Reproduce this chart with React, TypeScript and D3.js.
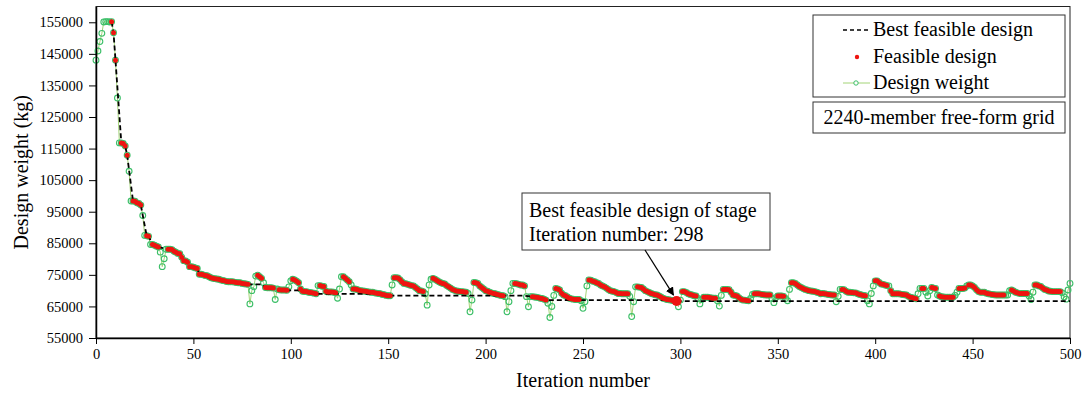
import React, { useEffect, useRef } from "react";
import * as d3 from "d3";

// design weight at each iteration 0..500, in thousands of kg
const weights = [
  143.0, 145.9, 148.9, 151.5, 155.1, 155.2, 155.2, 155.1, 155.2, 151.7,
  143.0, 131.0, 116.8, 116.8, 116.6, 115.8, 112.9, 107.8, 98.4, 98.4,
  98.3, 97.8, 97.6, 97.1, 93.8, 87.5, 87.4, 87.2, 84.6, 84.6,
  84.4, 84.1, 83.8, 82.2, 77.6, 80.1, 83.1, 83.1, 83.1, 83.0,
  82.5, 82.2, 81.8, 81.7, 80.6, 79.5, 79.4, 79.0, 77.6, 77.6,
  77.4, 77.2, 77.0, 75.2, 75.2, 75.0, 74.8, 74.7, 74.4, 74.1,
  73.9, 73.8, 73.7, 73.6, 73.4, 73.2, 73.1, 72.9, 72.8, 72.8,
  72.8, 72.7, 72.6, 72.5, 72.5, 72.3, 72.2, 72.1, 72.0, 65.8,
  70.0, 71.2, 74.6, 74.9, 74.4, 73.9, 72.5, 71.0, 70.9, 70.9,
  70.9, 70.8, 67.2, 70.5, 70.3, 70.2, 70.2, 70.2, 70.1, 71.2,
  73.1, 73.6, 73.4, 73.0, 72.5, 70.5, 69.8, 69.7, 69.7, 69.5,
  69.4, 69.3, 69.2, 69.0, 71.6, 71.6, 71.4, 71.3, 69.8, 69.6,
  69.6, 69.6, 69.5, 69.3, 67.6, 70.5, 74.4, 74.4, 73.9, 73.4,
  72.8, 71.8, 70.5, 70.5, 70.4, 70.1, 70.0, 69.9, 69.8, 69.7,
  69.6, 69.5, 69.5, 69.3, 69.2, 69.1, 69.0, 68.8, 68.7, 68.5,
  68.4, 68.4, 71.8, 74.1, 74.1, 74.0, 73.5, 72.8, 72.3, 72.2,
  72.0, 71.8, 71.6, 71.5, 71.0, 70.5, 70.0, 69.9, 69.7, 69.0,
  65.4, 71.8, 73.6, 73.9, 73.6, 73.2, 72.8, 72.5, 72.3, 72.1,
  71.6, 71.2, 70.8, 70.4, 70.1, 69.9, 69.8, 69.7, 69.7, 69.6,
  69.5, 69.1, 63.3, 67.0, 72.6, 72.5, 72.3, 71.5, 71.0, 70.5,
  70.0, 69.8, 69.5, 69.3, 69.1, 69.0, 68.8, 68.6, 68.5, 68.4,
  68.1, 63.3, 66.5, 70.0, 72.3, 72.3, 72.2, 72.0, 71.8, 71.8,
  71.5, 68.1, 64.9, 68.1, 68.1, 68.0, 67.9, 67.8, 67.6, 67.5,
  67.3, 67.0, 66.0, 61.5, 65.0, 68.5, 70.7, 70.5, 70.2, 69.2,
  68.6, 68.4, 68.0, 67.6, 67.4, 67.3, 67.2, 67.2, 67.2, 66.8,
  64.4, 66.5, 71.5, 73.4, 73.3, 73.0, 72.8, 72.5, 72.3, 71.8,
  71.5, 71.2, 70.8, 70.4, 70.0, 69.8, 69.7, 69.4, 69.1, 69.1,
  69.0, 69.0, 69.0, 69.0, 68.2, 61.8, 66.5, 71.2, 71.2, 71.1,
  71.0, 70.5, 70.0, 69.7, 69.4, 69.1, 68.9, 68.7, 68.6, 68.3,
  68.0, 67.6, 67.4, 67.2, 67.1, 67.0, 66.9, 66.8, 66.7, 64.9,
  67.0, 69.7, 69.7, 69.4, 69.0, 68.8, 68.6, 68.4, 68.3, 67.5,
  65.8, 67.2, 67.9, 67.9, 67.9, 67.8, 67.7, 67.6, 67.6, 66.8,
  65.1, 68.5, 70.4, 70.4, 70.4, 70.3, 69.5, 68.6, 68.5, 68.3,
  67.8, 67.3, 67.0, 67.0, 66.9, 66.8, 67.5, 68.8, 69.0, 69.0,
  69.0, 68.9, 68.8, 68.7, 68.6, 68.6, 68.6, 67.5, 66.2, 67.8,
  68.3, 68.3, 68.3, 68.2, 67.5, 66.8, 70.4, 72.5, 72.5, 72.3,
  71.8, 71.3, 71.0, 70.7, 70.4, 70.2, 70.0, 69.9, 69.8, 69.7,
  69.5, 69.3, 69.0, 69.1, 69.0, 68.9, 68.8, 68.7, 68.6, 68.6,
  66.5, 68.2, 70.4, 70.4, 70.3, 69.8, 69.5, 69.5, 69.4, 69.3,
  69.3, 69.0, 68.8, 68.6, 68.5, 68.4, 66.8, 65.8, 69.1, 71.5,
  73.1, 73.1, 72.6, 72.1, 72.0, 71.8, 71.6, 71.5, 70.0, 69.0,
  69.0, 69.0, 69.0, 68.9, 68.8, 68.7, 68.6, 68.2, 67.9, 67.8,
  67.6, 67.4, 69.0, 70.7, 70.7, 70.7, 69.5, 68.3, 70.0, 71.0,
  70.8, 70.7, 68.6, 68.3, 68.1, 68.0, 67.9, 67.9, 67.9, 67.9,
  67.9, 68.5, 69.5, 70.7, 70.7, 70.7, 70.8, 71.5, 71.8, 71.8,
  71.5, 71.0, 70.3, 69.7, 69.5, 69.5, 69.5, 69.2, 69.0, 68.9,
  68.8, 68.7, 68.6, 68.6, 68.6, 68.6, 68.6, 68.6, 68.6, 70.0,
  70.2, 69.9, 69.5, 69.3, 69.1, 69.1, 69.1, 69.1, 69.1, 68.3,
  67.2, 69.5, 71.8, 71.8, 71.5, 71.3, 70.8, 70.4, 70.2, 69.9,
  69.8, 69.7, 69.7, 69.7, 69.7, 69.7, 69.3, 68.0, 67.3, 70.2,
  72.3,
];

// iterations where the design was not feasible (open circle only)
const infeasible = [
  0, 1, 2, 3, 4, 5, 6, 7, 11, 12, 17, 18, 24, 25, 28, 33, 34, 35, 36,
  79, 80, 81, 82, 86, 92, 93, 99, 100, 114, 124, 125, 126, 131, 152,
  169, 170, 171, 172, 191, 192, 193, 210, 211, 212, 213, 214, 221, 222, 223,
  232, 233, 234, 235, 249, 250, 251, 252, 274, 275, 276, 277, 299, 300,
  309, 310, 311, 319, 320, 321, 336, 337, 347, 348, 349, 354, 355, 356,
  380, 381, 382, 396, 397, 398, 399, 407, 422, 423, 426, 427, 428, 432,
  441, 442, 447, 467, 468, 469, 479, 480, 481, 496, 497, 498, 499, 500,
];

const xTicks = [0, 50, 100, 150, 200, 250, 300, 350, 400, 450, 500];
const yTicks = [55000, 65000, 75000, 85000, 95000, 105000, 115000, 125000, 135000, 145000, 155000];
const bestIteration = 298;

const FONT = "'Liberation Serif', 'Times New Roman', serif";
const GREEN_LINE = "#a3d477";
const GREEN_MARK = "#3cbf68";
const RED = "#ee1410";

export default function App() {
  const svgRef = useRef<SVGSVGElement>(null);

  useEffect(() => {
    const svg = d3.select(svgRef.current);
    svg.selectAll("*").remove();

    const left = 96, right = 1070, top = 6.5, bottom = 338;
    const x = d3.scaleLinear().domain([0, 500]).range([left, right]);
    const y = d3.scaleLinear().domain([55000, 160000]).range([bottom, top]);

    const bad = new Set(infeasible);
    const pts = weights.map((w, i) => ({ i, v: w * 1000, ok: !bad.has(i) }));
    const feasible = pts.filter(d => d.ok);

    // running best of the feasible designs, extended to the last iteration
    const best: { i: number; v: number }[] = [];
    let m = Infinity;
    feasible.forEach(d => { m = Math.min(m, d.v); best.push({ i: d.i, v: m }); });
    best.push({ i: 500, v: m });

    // frame
    svg.append("rect")
      .attr("x", left).attr("y", top)
      .attr("width", right - left).attr("height", bottom - top)
      .attr("fill", "none").attr("stroke", "#222").attr("stroke-width", 1);

    const line = d3.line<{ i: number; v: number }>().x(d => x(d.i)).y(d => y(d.v));

    svg.append("path").datum(pts).attr("d", line)
      .attr("fill", "none").attr("stroke", GREEN_LINE).attr("stroke-width", 1);

    svg.append("g").selectAll("circle").data(pts).join("circle")
      .attr("cx", d => x(d.i)).attr("cy", d => y(d.v)).attr("r", 2.9)
      .attr("fill", "none").attr("stroke", GREEN_MARK).attr("stroke-width", 1.1);

    svg.append("path").datum(best).attr("d", line)
      .attr("fill", "none").attr("stroke", "#000").attr("stroke-width", 1.8)
      .attr("stroke-dasharray", "5,3");

    svg.append("g").selectAll("circle").data(feasible).join("circle")
      .attr("cx", d => x(d.i)).attr("cy", d => y(d.v)).attr("r", 2.5)
      .attr("fill", RED);

    const bp = pts[bestIteration];
    svg.append("circle").attr("cx", x(bp.i)).attr("cy", y(bp.v)).attr("r", 5).attr("fill", RED);

    // axes
    const xAxis = svg.append("g").attr("transform", `translate(0,${bottom})`)
      .call(d3.axisBottom(x).tickValues(xTicks).tickSize(6).tickPadding(5).tickSizeOuter(0));
    const yAxis = svg.append("g").attr("transform", `translate(${left},0)`)
      .call(d3.axisLeft(y).tickValues(yTicks).tickSize(7).tickPadding(6).tickSizeOuter(0).tickFormat(d3.format("d")));
    [xAxis, yAxis].forEach(g => {
      g.select(".domain").attr("stroke", "#000").attr("stroke-width", 1.5);
      g.selectAll(".tick line").attr("stroke", "#000");
      g.selectAll("text").attr("fill", "#000").style("font-size", "14.5px").style("font-family", FONT);
    });

    svg.append("text").attr("x", (left + right) / 2).attr("y", 387)
      .attr("text-anchor", "middle").style("font-size", "20px").style("font-family", FONT)
      .text("Iteration number");
    svg.append("text").attr("transform", `translate(28,${(top + bottom) / 2}) rotate(-90)`)
      .attr("text-anchor", "middle").style("font-size", "20px").style("font-family", FONT)
      .text("Design weight (kg)");

    // legend
    const lg = svg.append("g");
    lg.append("rect").attr("x", 813).attr("y", 15).attr("width", 252).attr("height", 82)
      .attr("fill", "#fff").attr("stroke", "#333");
    lg.append("line").attr("x1", 843).attr("x2", 868).attr("y1", 30).attr("y2", 30)
      .attr("stroke", "#000").attr("stroke-width", 1.6).attr("stroke-dasharray", "4,3");
    lg.append("circle").attr("cx", 857).attr("cy", 57).attr("r", 2.2).attr("fill", RED);
    lg.append("line").attr("x1", 843).attr("x2", 870).attr("y1", 83).attr("y2", 83)
      .attr("stroke", GREEN_LINE).attr("stroke-width", 1);
    lg.append("circle").attr("cx", 856).attr("cy", 83).attr("r", 2.2)
      .attr("fill", "#fff").attr("stroke", GREEN_MARK);
    ["Best feasible design", "Feasible design", "Design weight"].forEach((t, k) => {
      lg.append("text").attr("x", 873).attr("y", 36 + k * 26.5)
        .style("font-size", "20px").style("font-family", FONT).text(t);
    });

    lg.append("rect").attr("x", 813).attr("y", 102).attr("width", 252).attr("height", 31)
      .attr("fill", "#fff").attr("stroke", "#333");
    lg.append("text").attr("x", 939).attr("y", 124).attr("text-anchor", "middle")
      .style("font-size", "20px").style("font-family", FONT).text("2240-member free-form grid");

    // annotation
    svg.append("defs").append("marker").attr("id", "arr")
      .attr("viewBox", "0 0 10 10").attr("refX", 9).attr("refY", 5)
      .attr("markerWidth", 7).attr("markerHeight", 7).attr("orient", "auto")
      .append("path").attr("d", "M0,0L10,5L0,10z").attr("fill", "#000");
    svg.append("rect").attr("x", 522).attr("y", 193).attr("width", 248).attr("height", 57)
      .attr("fill", "#fff").attr("stroke", "#333");
    svg.append("text").attr("x", 529).attr("y", 217).style("font-size", "20px").style("font-family", FONT)
      .text("Best feasible design of stage");
    svg.append("text").attr("x", 529).attr("y", 241).style("font-size", "20px").style("font-family", FONT)
      .text(`Iteration number: ${bestIteration}`);
    svg.append("line").attr("x1", 645).attr("y1", 250).attr("x2", x(bp.i) - 3).attr("y2", y(bp.v) - 6)
      .attr("stroke", "#000").attr("stroke-width", 1.2).attr("marker-end", "url(#arr)");
  }, []);

  return (
    <svg ref={svgRef} width={1090} height={394}
      style={{ position: "absolute", left: 0, top: 0, background: "#fff" }} />
  );
}
